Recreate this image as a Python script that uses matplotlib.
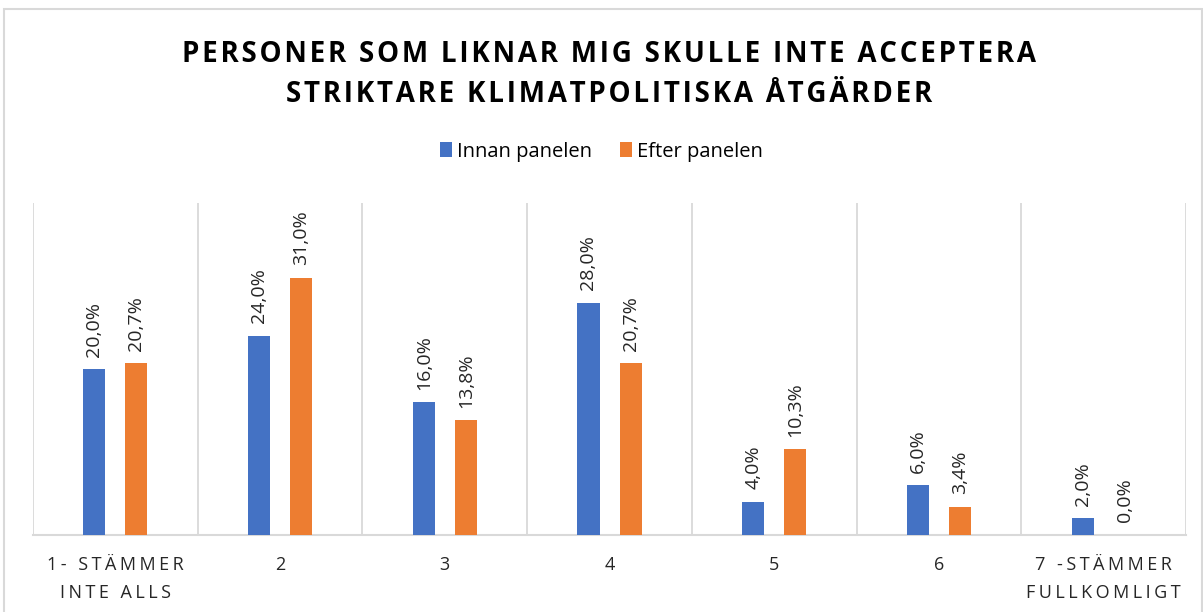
import matplotlib
matplotlib.use('Agg')
import matplotlib.pyplot as plt
import numpy as np
from matplotlib.patches import Rectangle

# data
categories = ["1- STÄMMER\nINTE ALLS", "2", "3", "4", "5", "6", "7 -STÄMMER\nFULLKOMLIGT"]
innan = [20.0, 24.0, 16.0, 28.0, 4.0, 6.0, 2.0]
efter = [20.7, 31.0, 13.8, 20.7, 10.3, 3.4, 0.0]
series_names = ["Innan panelen", "Efter panelen"]
title = "PERSONER SOM LIKNAR MIG SKULLE INTE ACCEPTERA\nSTRIKTARE KLIMATPOLITISKA ÅTGÄRDER"

blue = "#4472C4"
orange = "#ED7D31"
grid_col = "#D9D9D9"

plt.rcParams['font.family'] = ['Open Sans', 'DejaVu Sans']


def spaced(s, gap="\u200a"):
    # letter spacing like in the original (hair space between characters)
    return "\n".join(gap.join(line) for line in s.split("\n"))


fig = plt.figure(figsize=(12.03, 6.12), dpi=100)
fig.patches.append(Rectangle((0.003, -0.01), 0.996, 0.995, transform=fig.transFigure,
                             fill=False, edgecolor=grid_col, linewidth=1.5))

ax = fig.add_axes([0.0274, 0.126, 0.9586, 0.542])
x = np.arange(len(categories))
w = 0.134
off = 0.128
b1 = ax.bar(x - off, innan, w, color=blue, label=series_names[0], zorder=3)
b2 = ax.bar(x + off, efter, w, color=orange, label=series_names[1], zorder=3)

for bars, vals in [(b1, innan), (b2, efter)]:
    for rect, v in zip(bars, vals):
        ax.annotate(f"{v:.1f}%".replace(".", ","),
                    xy=(rect.get_x() + rect.get_width() / 2, rect.get_height()),
                    xytext=(0, 9), textcoords="offset points",
                    rotation=90, ha='center', va='bottom', fontsize=14, color='#262626')

ax.set_xlim(-0.5, len(categories) - 0.5)
ax.set_ylim(0, 40)
for b in np.arange(-0.5, len(categories), 1.0):
    ax.axvline(b, color=grid_col, linewidth=1.3, zorder=1)
ax.set_yticks([])
ax.set_xticks(x)
ax.set_xticklabels([spaced(c, "\u200a\u200a") for c in categories], fontsize=13,
                   color='#262626', linespacing=1.7)
ax.tick_params(axis='x', length=0, pad=15)
for s in ['top', 'left', 'right']:
    ax.spines[s].set_visible(False)
ax.spines['bottom'].set_color(grid_col)
ax.spines['bottom'].set_linewidth(1.5)

fig.text(0.506, 0.878, spaced(title), ha='center', va='center', fontsize=20, fontweight='bold',
         color='#000000', linespacing=1.5)

fig.legend(handles=[b1, b2], labels=series_names, loc='center', bbox_to_anchor=(0.5, 0.752),
           ncol=2, frameon=False, fontsize=14.5, handlelength=0.6, handleheight=0.8,
           handletextpad=0.25, columnspacing=1.4)

plt.savefig("out.png", dpi=100, facecolor='white')
plt.close()
